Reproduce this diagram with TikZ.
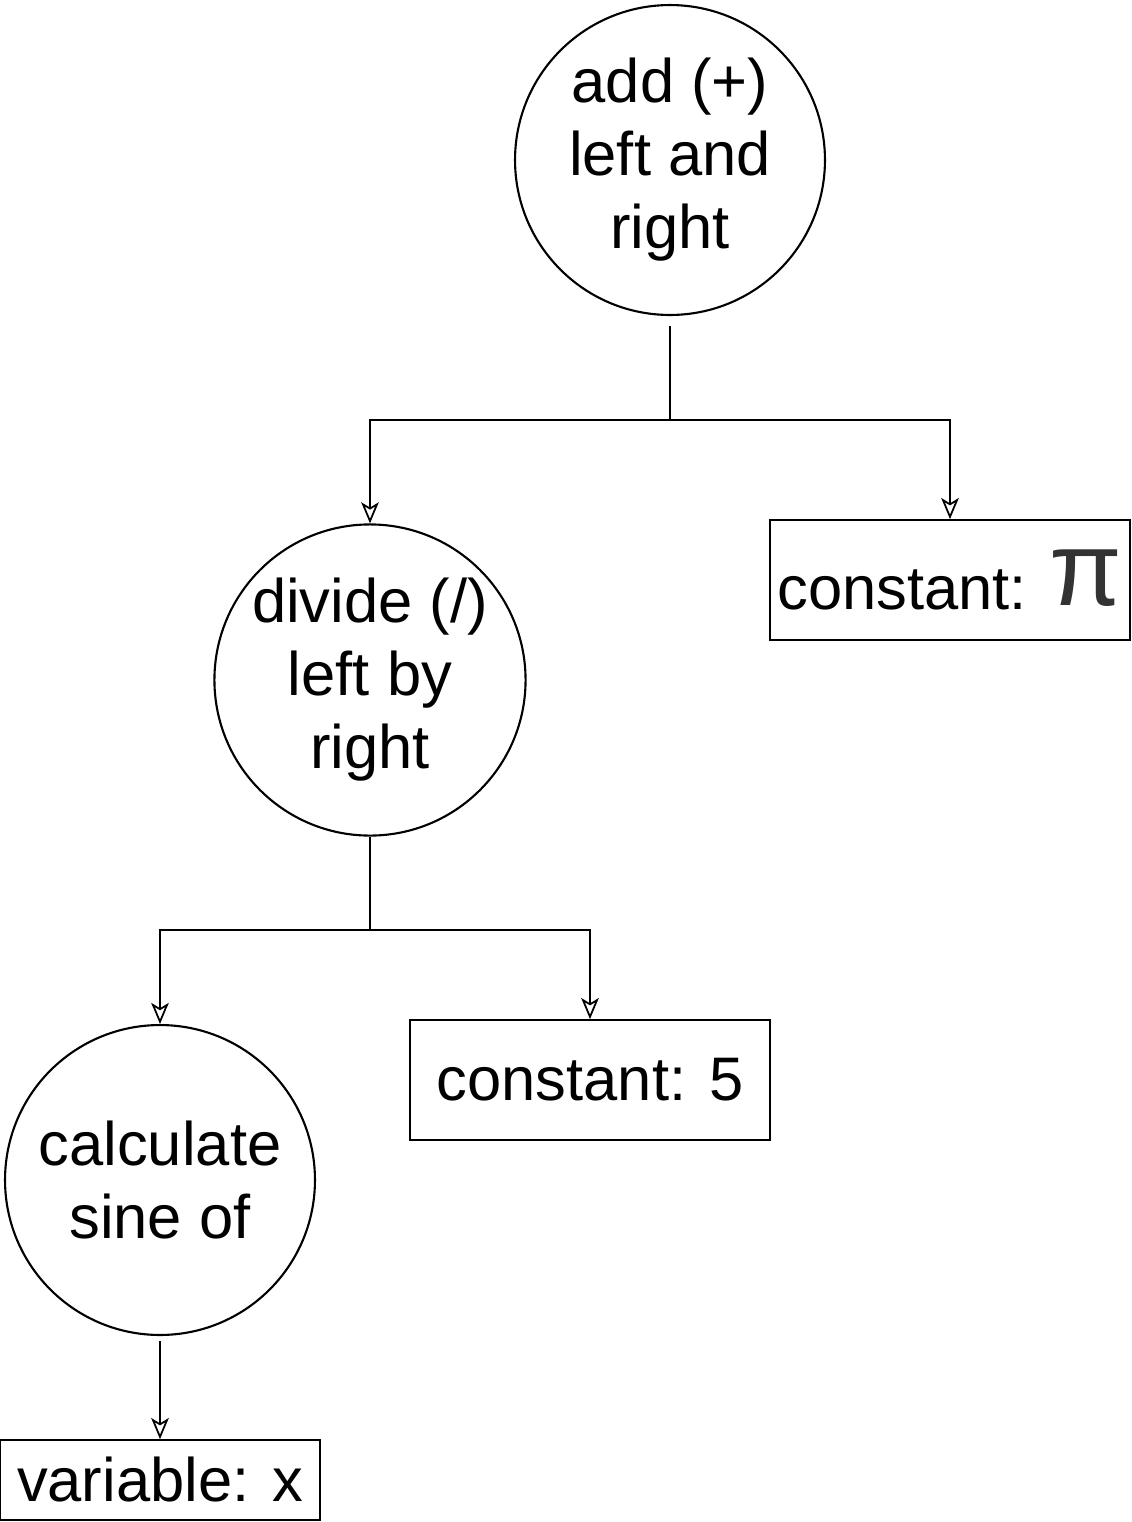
\documentclass[tikz,border=0pt]{standalone}
\usepackage{fontspec}
\setmainfont{Liberation Sans}
\definecolor{PiColor}{RGB}{51,51,51}
\usepackage{tikz}
\usetikzlibrary{positioning, arrows.meta, calc}

\tikzset{
  opnode/.style={draw, circle, line width=1.2pt, minimum size=6.2cm, inner sep=0pt, align=center, font=\fontsize{35}{41.5}\selectfont},
  leafnode/.style={draw, rectangle, line width=1pt, inner sep=0pt, font=\fontsize{35}{41.5}\selectfont},
  link/.style={line width=1pt},
  linkarr/.style={line width=1pt, -{Stealth[open, length=12pt, width=10pt, inset=3pt]}}
}

\begin{document}
\begin{tikzpicture}[x=0.02cm, y=-0.02cm]
  \useasboundingbox (0,0) rectangle (1132,1522);
  % Operator nodes
  \node[opnode] (add) at (670,160) {add (+)\\left and\\right};
  \node[opnode] (div) at (370,680) {divide (/)\\left by\\right};
  \node[opnode] (sine) at (160,1180) {calculate\\sine of};
  % Leaf nodes
  \node[leafnode, minimum width=7.2cm, minimum height=2.4cm] (pi) at (950,580)
    {\raisebox{-0.7ex}{constant: }\raisebox{-0.6ex}{\textcolor{PiColor}{\fontsize{60}{62}\selectfont π}}};
  \node[leafnode, minimum width=7.2cm, minimum height=2.4cm] (five) at (590,1080) {constant: 5};
  \node[leafnode, minimum width=6.4cm, minimum height=1.6cm] (varx) at (160,1480) {variable: x};
  % Branch points
  \coordinate (j1) at (670,420);
  \coordinate (j2) at (370,930);
  % Connectors
  \draw[link] ($(add.south)+(0,10)$) -- (j1);
  \draw[linkarr] (j1) -| (div.north);
  \draw[linkarr] (j1) -| (pi.north);
  \draw[link] (div.south) -- (j2);
  \draw[linkarr] (j2) -| (sine.north);
  \draw[linkarr] (j2) -| (five.north);
  \draw[linkarr] ($(sine.south)+(0,5)$) -- (varx.north);
\end{tikzpicture}
\end{document}
